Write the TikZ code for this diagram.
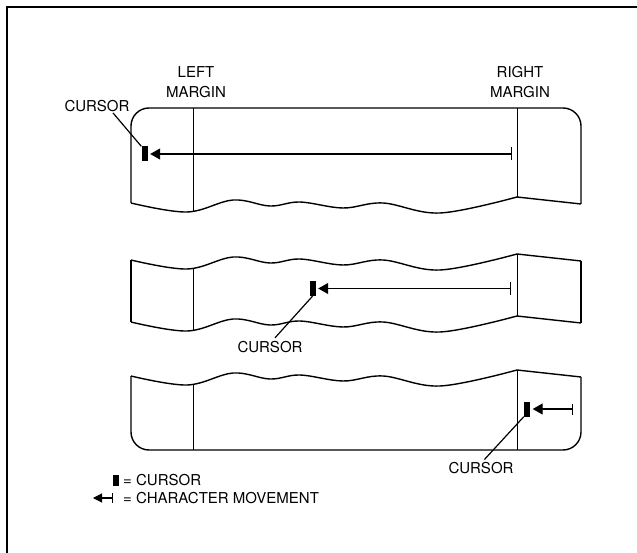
\documentclass[tikz,border=0pt]{standalone}
\usepackage{fontspec}
\setmainfont{TeX Gyre Heros}
\usepackage{tikz}
\usetikzlibrary{arrows.meta}

% torn lower/upper edge of a sheet, #1 = y of its left end
\newcommand{\tornedge}[1]{%
\draw[outline] plot[smooth, tension=0.6] coordinates {(131,#1) (187,#1+9) (233,#1-3) (270,#1+3) (300,#1-1) (343,#1+5) (383,#1) (440,#1+10) (517,#1-6)} -- (581,#1+1);}

\begin{document}
\begin{tikzpicture}[x=1pt, y=-1pt,
  outline/.style={line width=1.4pt, line join=round},
  marginline/.style={line width=0.9pt},
  frameline/.style={line width=2pt},
  lbl/.style={inner sep=1pt, align=center, font=\fontsize{15pt}{20pt}\selectfont},
  cursorblock/.style={fill=black, inner sep=0pt, minimum width=6pt, minimum height=15pt},
  move/.style={line width=1.1pt, {Bar[width=13pt]}-{Triangle[length=10pt,width=11pt]}, shorten >=2.5pt},
  keymove/.style={line width=1.1pt, {Bar[width=10pt]}-{Triangle[length=9pt,width=9pt]}},
  leader/.style={line width=1.2pt}]
\useasboundingbox (0,0) rectangle (637,553);

% frame
\draw[frameline] (637,7) -- (7,7) -- (7,553);

% margin labels
\node[lbl] (leftm) at (196,82) {LEFT\\MARGIN};
\node[lbl] (rightm) at (520,82) {RIGHT\\MARGIN};

% first sheet
\draw[outline, rounded corners=18pt] (131,203) -- (131,108) -- (581,108) -- (581,204);
\tornedge{203}
\draw[marginline] (193,108) -- (193,211.7);
\draw[marginline] (517,108) -- (517,197);

% second sheet
\tornedge{260}
\tornedge{322}
\draw[outline] (131,260) -- (131,322);
\draw[outline] (581,261) -- (581,323);
\draw[marginline] (193,268.7) -- (193,330.7);
\draw[marginline] (517,254) -- (517,316);

% third sheet
\tornedge{376}
\draw[outline, rounded corners=18pt] (131,376) -- (131,450) -- (581,450) -- (581,377);
\draw[marginline] (193,384.7) -- (193,450);
\draw[marginline] (517,370) -- (517,450);

% cursors and movements
\node[cursorblock] (cur1) at (144.5,154) {};
\coordinate (bar1) at (512,154);
\draw[move] (bar1) -- (cur1.east);
\node[lbl] (curlbl1) at (97,106) {CURSOR};
\draw[leader] ([xshift=16pt]curlbl1.south) -- (cur1.north west);

\node[cursorblock] (cur2) at (312.5,288.5) {};
\coordinate (bar2) at (511,288.5);
\draw[move] (bar2) -- (cur2.east);
\node[lbl] (curlbl2) at (270,347) {CURSOR};
\draw[leader, shorten >=3pt] (cur2.south) -- ([xshift=3pt]curlbl2.north);

\node[cursorblock] (cur3) at (527,409) {};
\coordinate (bar3) at (573,409);
\draw[move, {Bar[width=11pt]}-{Triangle[length=10pt,width=11pt]}] (bar3) -- (cur3.east);
\node[lbl] (curlbl3) at (481,468) {CURSOR};
\draw[leader, shorten >=2pt] (cur3.south west) -- ([xshift=2pt]curlbl3.north);

% key
\node[cursorblock, minimum height=11pt] (keycur) at (116,480.5) {};
\node[lbl, anchor=west] (keycurtxt) at (122,480.5) {= CURSOR};
\coordinate (keybar) at (113,498);
\coordinate (keytip) at (93,498);
\draw[keymove] (keybar) -- (keytip);
\node[lbl, anchor=west] (keymovetxt) at (122,498) {= CHARACTER MOVEMENT};
\end{tikzpicture}
\end{document}
